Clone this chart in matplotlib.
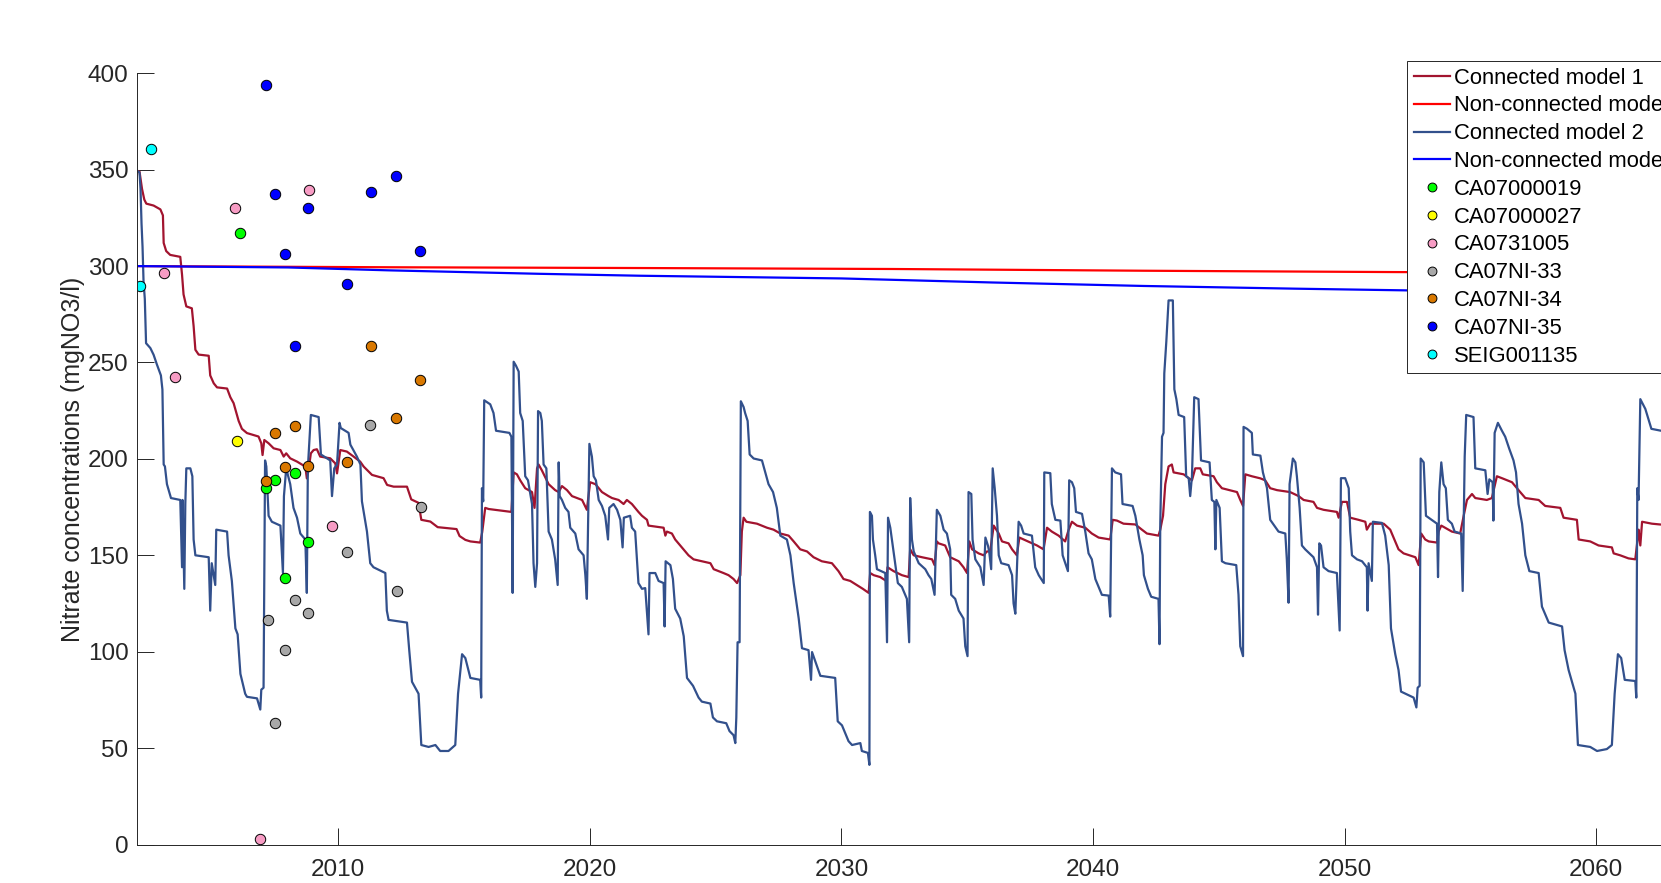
import matplotlib.pyplot as plt

plt.rcParams['font.family'] = ['Liberation Sans', 'DejaVu Sans']

# Connected model 1 (dark red)
conn1_year = [2002.00, 2002.10, 2002.20, 2002.29, 2002.37, 2002.66, 2002.93, 2003.03, 2003.06, 2003.16,
              2003.32, 2003.72, 2003.79, 2003.85, 2003.96, 2004.18, 2004.25, 2004.32, 2004.45, 2004.85,
              2004.91, 2005.05, 2005.18, 2005.58, 2005.71, 2005.84, 2005.95, 2006.04, 2006.17, 2006.37,
              2006.83, 2006.94, 2006.99, 2007.06, 2007.23, 2007.43, 2007.70, 2007.83, 2007.93, 2008.09,
              2008.36, 2008.69, 2008.75, 2008.82, 2008.91, 2009.02, 2009.15, 2009.28, 2009.68, 2009.88,
              2009.95, 2010.08, 2010.34, 2010.61, 2010.87, 2011.01, 2011.34, 2011.80, 2011.94, 2012.20,
              2012.73, 2012.90, 2013.19, 2013.30, 2013.66, 2013.95, 2014.70, 2014.82, 2015.05, 2015.25,
              2015.64, 2015.72, 2015.84, 2015.98, 2016.88, 2016.97, 2017.10, 2017.23, 2017.43, 2017.70,
              2017.80, 2017.90, 2017.96, 2018.09, 2018.36, 2018.62, 2018.76, 2018.89, 2019.09, 2019.29,
              2019.69, 2019.88, 2020.01, 2020.22, 2020.48, 2020.74, 2020.88, 2021.14, 2021.34, 2021.47,
              2021.67, 2021.93, 2022.07, 2022.27, 2022.33, 2022.93, 2023.00, 2023.06, 2023.26, 2023.39,
              2023.59, 2023.79, 2023.92, 2024.12, 2024.79, 2024.92, 2025.31, 2025.51, 2025.71, 2025.85,
              2025.98, 2026.04, 2026.11, 2026.22, 2026.64, 2027.04, 2027.30, 2027.57, 2027.90, 2028.10,
              2028.36, 2028.63, 2028.89, 2029.22, 2029.62, 2029.88, 2030.08, 2030.35, 2030.61, 2030.85,
              2031.08, 2031.14, 2031.28, 2031.54, 2031.78, 2031.83, 2032.07, 2032.40, 2032.67, 2032.73,
              2032.87, 2033.20, 2033.60, 2033.70, 2033.79, 2033.86, 2034.12, 2034.32, 2034.66, 2034.85,
              2034.99, 2035.08, 2035.19, 2035.45, 2035.65, 2035.78, 2035.91, 2036.05, 2036.25, 2036.38,
              2036.64, 2036.78, 2036.97, 2037.07, 2037.24, 2037.57, 2037.77, 2038.03, 2038.17, 2038.36,
              2038.63, 2038.89, 2039.03, 2039.16, 2039.36, 2039.69, 2039.95, 2040.22, 2040.68, 2040.78,
              2040.95, 2041.21, 2041.68, 2041.94, 2042.14, 2042.60, 2042.67, 2042.78, 2042.87, 2043.00,
              2043.13, 2043.20, 2043.60, 2043.80, 2043.93, 2044.06, 2044.26, 2044.36, 2044.79, 2044.92,
              2045.12, 2045.72, 2045.85, 2045.96, 2046.05, 2046.31, 2046.65, 2046.84, 2047.04, 2047.31,
              2047.83, 2048.17, 2048.37, 2048.76, 2048.90, 2049.16, 2049.69, 2049.76, 2049.89, 2050.09,
              2050.22, 2050.55, 2050.82, 2050.88, 2051.02, 2051.55, 2051.81, 2052.01, 2052.14, 2052.34,
              2052.81, 2052.94, 2053.04, 2053.20, 2053.34, 2053.67, 2053.73, 2053.84, 2053.99, 2054.26,
              2054.59, 2054.73, 2054.86, 2055.06, 2055.19, 2055.65, 2055.85, 2056.05, 2056.25, 2056.65,
              2056.91, 2057.18, 2057.71, 2057.97, 2058.57, 2058.70, 2059.23, 2059.30, 2059.76, 2060.09,
              2060.62, 2060.69, 2060.95, 2061.28, 2061.55, 2061.64, 2061.68, 2061.75, 2061.82, 2062.21,
              2063.00]
conn1_val = [349.5, 349.0, 340.0, 334.5, 332.4, 331.4, 329.4, 326.3, 312.0, 307.8,
             305.8, 304.8, 295.5, 285.3, 279.1, 278.1, 268.9, 256.6, 254.1, 253.5,
             243.3, 239.2, 237.1, 236.5, 232.0, 228.9, 223.8, 219.7, 215.6, 213.4,
             211.6, 208.1, 202.0, 209.8, 208.1, 205.5, 204.6, 201.2, 202.9, 200.3,
             198.6, 196.0, 189.9, 194.3, 202.9, 204.6, 205.0, 201.2, 200.3, 197.7,
             192.5, 204.6, 203.8, 201.2, 198.6, 196.0, 191.7, 190.0, 186.5, 185.6,
             185.6, 179.0, 177.2, 168.4, 167.5, 164.6, 163.6, 160.0, 158.0, 157.2,
             156.6, 162.0, 174.6, 174.0, 172.5, 193.0, 192.0, 188.9, 184.8, 182.8,
             174.6, 195.1, 197.1, 194.1, 186.9, 183.8, 182.8, 185.9, 183.8, 180.7,
             178.7, 173.6, 187.9, 186.9, 182.8, 180.7, 179.7, 178.7, 176.6, 178.7,
             176.6, 172.5, 170.5, 168.4, 165.4, 164.3, 160.2, 162.3, 161.3, 158.2,
             155.1, 152.0, 150.0, 147.9, 145.9, 142.8, 140.8, 139.7, 137.7, 135.6,
             139.7, 162.3, 169.5, 167.4, 166.4, 164.3, 163.3, 161.3, 160.2, 157.2,
             153.1, 152.0, 149.0, 146.9, 145.9, 141.8, 137.7, 136.7, 134.6, 132.6,
             130.5, 140.8, 139.7, 138.7, 136.7, 143.8, 141.8, 139.7, 138.7, 153.1,
             150.0, 149.0, 147.9, 144.9, 157.2, 156.2, 155.1, 149.0, 146.9, 143.8,
             140.8, 157.2, 153.1, 151.0, 150.0, 152.0, 152.0, 165.4, 161.3, 157.2,
             156.2, 153.1, 150.0, 159.2, 158.2, 156.2, 155.1, 153.1, 164.3, 162.3,
             160.2, 157.2, 163.3, 167.4, 165.4, 164.3, 161.3, 159.2, 158.2, 168.4,
             168.0, 166.4, 166.0, 163.3, 161.3, 160.2, 163.3, 170.5, 186.9, 196.1,
             197.1, 193.0, 192.0, 190.0, 188.9, 195.1, 195.1, 192.0, 191.0, 187.9,
             184.8, 182.8, 178.7, 175.6, 192.0, 191.0, 189.9, 188.9, 184.8, 183.8,
             182.8, 180.7, 178.7, 177.7, 174.6, 173.6, 172.5, 169.5, 177.7, 177.7,
             169.5, 168.4, 167.4, 163.3, 166.4, 166.4, 163.3, 157.2, 153.1, 151.0,
             149.0, 144.9, 161.3, 158.2, 157.2, 156.6, 162.3, 165.4, 164.3, 162.3,
             161.3, 170.5, 178.7, 181.8, 179.7, 178.7, 179.7, 191.0, 190.0, 187.9,
             183.8, 179.7, 178.7, 175.6, 174.6, 169.5, 168.4, 158.2, 157.2, 155.1,
             154.1, 151.0, 150.0, 148.4, 147.9, 158.2, 163.3, 155.1, 167.4, 166.4,
             165.4]

# Non-connected model 1 (red)
nc1_year = [2002, 2012, 2022, 2032, 2042, 2052, 2063]
nc1_val = [300.0, 299.4, 299.0, 298.5, 297.6, 296.9, 296.4]

# Connected model 2 (navy)
conn2_year = [2002.00, 2002.10, 2002.14, 2002.18, 2002.22, 2002.26, 2002.31, 2002.36, 2002.53, 2002.66,
              2002.79, 2002.95, 2003.01, 2003.06, 2003.11, 2003.19, 2003.35, 2003.72, 2003.79, 2003.81,
              2003.88, 2003.92, 2003.96, 2004.12, 2004.20, 2004.25, 2004.32, 2004.85, 2004.91, 2004.97,
              2005.11, 2005.15, 2005.58, 2005.64, 2005.77, 2005.91, 2006.00, 2006.11, 2006.30, 2006.37,
              2006.77, 2006.90, 2006.94, 2007.03, 2007.09, 2007.14, 2007.23, 2007.36, 2007.70, 2007.80,
              2007.84, 2007.93, 2008.09, 2008.22, 2008.36, 2008.49, 2008.69, 2008.75, 2008.79, 2008.91,
              2009.22, 2009.31, 2009.68, 2009.75, 2009.84, 2009.95, 2010.05, 2010.10, 2010.41, 2010.48,
              2010.74, 2010.88, 2010.94, 2011.14, 2011.27, 2011.40, 2011.87, 2011.93, 2012.00, 2012.73,
              2012.82, 2012.93, 2013.19, 2013.30, 2013.59, 2013.86, 2014.05, 2014.38, 2014.65, 2014.76,
              2014.92, 2015.05, 2015.25, 2015.64, 2015.68, 2015.71, 2015.76, 2015.80, 2016.04, 2016.17,
              2016.27, 2016.80, 2016.88, 2016.93, 2016.97, 2017.06, 2017.17, 2017.23, 2017.33, 2017.43,
              2017.54, 2017.70, 2017.76, 2017.83, 2017.90, 2017.94, 2018.03, 2018.09, 2018.16, 2018.27,
              2018.36, 2018.49, 2018.62, 2018.72, 2018.76, 2018.80, 2018.89, 2019.02, 2019.15, 2019.22,
              2019.42, 2019.55, 2019.75, 2019.82, 2019.88, 2019.98, 2020.08, 2020.15, 2020.24, 2020.35,
              2020.48, 2020.61, 2020.72, 2020.77, 2020.94, 2021.08, 2021.21, 2021.30, 2021.35, 2021.60,
              2021.67, 2021.80, 2021.93, 2022.07, 2022.20, 2022.33, 2022.37, 2022.60, 2022.73, 2022.93,
              2022.97, 2023.01, 2023.20, 2023.30, 2023.39, 2023.59, 2023.73, 2023.86, 2024.10, 2024.32,
              2024.45, 2024.79, 2024.89, 2025.05, 2025.42, 2025.55, 2025.71, 2025.78, 2025.82, 2025.87,
              2025.95, 2026.00, 2026.11, 2026.17, 2026.27, 2026.35, 2026.51, 2026.84, 2026.97, 2027.10,
              2027.28, 2027.43, 2027.57, 2027.83, 2027.97, 2028.10, 2028.30, 2028.43, 2028.69, 2028.79,
              2028.83, 2029.16, 2029.75, 2029.85, 2030.02, 2030.15, 2030.28, 2030.42, 2030.75, 2030.81,
              2031.05, 2031.11, 2031.13, 2031.21, 2031.25, 2031.34, 2031.41, 2031.74, 2031.81, 2031.85,
              2031.94, 2032.07, 2032.24, 2032.40, 2032.60, 2032.69, 2032.73, 2032.80, 2032.87, 2033.07,
              2033.33, 2033.46, 2033.57, 2033.70, 2033.79, 2033.93, 2034.06, 2034.19, 2034.32, 2034.36,
              2034.52, 2034.66, 2034.85, 2034.92, 2035.01, 2035.05, 2035.16, 2035.21, 2035.32, 2035.52,
              2035.65, 2035.72, 2035.82, 2035.87, 2035.95, 2036.01, 2036.09, 2036.18, 2036.25, 2036.35,
              2036.64, 2036.78, 2036.84, 2036.91, 2037.04, 2037.14, 2037.24, 2037.57, 2037.70, 2037.84,
              2038.04, 2038.06, 2038.30, 2038.36, 2038.50, 2038.70, 2038.79, 2038.92, 2039.00, 2039.05,
              2039.16, 2039.25, 2039.32, 2039.56, 2039.69, 2039.82, 2039.95, 2040.09, 2040.35, 2040.62,
              2040.68, 2040.75, 2040.88, 2041.11, 2041.17, 2041.57, 2041.68, 2041.84, 2041.97, 2042.02,
              2042.18, 2042.31, 2042.60, 2042.64, 2042.67, 2042.74, 2042.80, 2042.83, 2042.91, 2043.00,
              2043.17, 2043.23, 2043.31, 2043.40, 2043.62, 2043.70, 2043.80, 2043.86, 2043.93, 2044.02,
              2044.19, 2044.29, 2044.63, 2044.72, 2044.82, 2044.86, 2044.90, 2045.03, 2045.12, 2045.26,
              2045.69, 2045.78, 2045.85, 2045.96, 2045.98, 2046.12, 2046.31, 2046.35, 2046.65, 2046.75,
              2046.85, 2046.91, 2047.04, 2047.20, 2047.37, 2047.64, 2047.70, 2047.77, 2047.81, 2047.94,
              2048.04, 2048.10, 2048.21, 2048.30, 2048.43, 2048.76, 2048.90, 2048.94, 2048.99, 2049.06,
              2049.16, 2049.36, 2049.69, 2049.80, 2049.85, 2050.02, 2050.16, 2050.22, 2050.29, 2050.49,
              2050.69, 2050.88, 2050.91, 2050.95, 2051.08, 2051.12, 2051.48, 2051.61, 2051.75, 2051.84,
              2052.01, 2052.14, 2052.24, 2052.74, 2052.85, 2052.90, 2052.98, 2053.02, 2053.14, 2053.23,
              2053.67, 2053.71, 2053.76, 2053.84, 2053.93, 2054.02, 2054.10, 2054.26, 2054.37, 2054.63,
              2054.69, 2054.77, 2054.83, 2055.12, 2055.19, 2055.59, 2055.68, 2055.75, 2055.88, 2055.91,
              2055.96, 2056.09, 2056.25, 2056.38, 2056.54, 2056.71, 2056.81, 2056.91, 2057.05, 2057.18,
              2057.34, 2057.71, 2057.84, 2058.11, 2058.64, 2058.74, 2058.90, 2059.17, 2059.27, 2059.76,
              2060.03, 2060.42, 2060.62, 2060.73, 2060.86, 2060.99, 2061.13, 2061.55, 2061.59, 2061.63,
              2061.68, 2061.75, 2061.95, 2062.19, 2063.00]
conn2_val = [349.5, 348.5, 340.0, 322.0, 310.0, 292.0, 283.0, 260.0, 257.5, 254.0,
             249.0, 243.3, 236.0, 197.1, 196.1, 186.9, 179.7, 178.7, 143.8, 178.7,
             132.6, 176.6, 195.1, 195.1, 191.0, 158.2, 150.0, 149.0, 121.3, 145.9,
             134.6, 163.3, 162.3, 150.0, 136.7, 112.1, 109.0, 88.5, 78.2, 76.6,
             75.8, 70.0, 80.3, 81.3, 199.2, 196.1, 170.5, 167.4, 165.4, 140.8,
             180.7, 195.1, 186.9, 174.6, 169.5, 161.3, 158.2, 130.5, 195.1, 222.8,
             221.7, 202.3, 199.2, 180.7, 195.1, 197.1, 218.7, 216.0, 213.5, 207.4,
             201.2, 197.1, 178.0, 162.3, 145.9, 143.8, 140.8, 121.3, 116.5, 115.1,
             100.8, 84.4, 78.2, 51.6, 50.6, 51.6, 48.5, 48.5, 51.6, 78.2,
             98.7, 96.7, 86.4, 85.4, 76.2, 184.8, 178.0, 230.4, 228.3, 223.8,
             214.6, 213.5, 211.5, 130.5, 250.4, 248.4, 245.3, 223.8, 219.7, 191.0,
             188.9, 176.6, 145.9, 133.6, 145.9, 224.8, 223.8, 219.7, 197.1, 195.1,
             162.3, 158.2, 147.9, 134.6, 198.2, 180.7, 178.7, 174.6, 172.5, 164.3,
             161.3, 153.1, 150.0, 139.7, 127.4, 207.8, 201.2, 191.0, 188.9, 178.7,
             175.6, 170.5, 158.2, 174.6, 176.6, 173.6, 168.4, 154.1, 169.5, 170.5,
             164.3, 162.3, 135.6, 132.6, 133.0, 109.0, 140.8, 140.8, 136.7, 135.6,
             113.1, 146.9, 144.9, 137.7, 122.3, 117.2, 108.0, 86.4, 82.3, 76.2,
             74.1, 73.1, 65.9, 63.9, 62.9, 58.8, 56.7, 52.6, 65.9, 104.9,
             104.9, 229.9, 226.9, 223.8, 219.7, 202.3, 200.2, 199.2, 193.0, 186.9,
             182.8, 174.6, 160.2, 158.2, 150.0, 135.6, 117.2, 101.8, 100.8, 85.4,
             99.8, 87.5, 86.4, 63.9, 61.8, 57.7, 53.6, 51.6, 52.6, 48.5,
             47.5, 41.3, 172.5, 170.5, 158.2, 150.0, 142.8, 140.8, 104.9, 169.5,
             164.3, 152.0, 135.6, 133.6, 127.4, 104.9, 179.7, 158.2, 152.0, 145.9,
             142.8, 139.7, 137.7, 129.5, 173.6, 170.5, 163.3, 161.3, 153.1, 129.5,
             127.4, 121.3, 117.2, 102.8, 97.7, 182.8, 181.8, 158.2, 147.9, 143.8,
             134.6, 159.2, 155.1, 152.0, 142.8, 195.1, 184.8, 170.5, 150.0, 145.9,
             144.9, 139.7, 125.0, 119.7, 167.4, 165.4, 161.3, 160.2, 143.8, 139.7,
             135.6, 193.0, 192.6, 176.6, 168.4, 168.0, 150.0, 144.9, 141.8, 188.9,
             187.9, 184.8, 172.5, 171.5, 162.3, 151.0, 147.9, 137.7, 129.5, 129.1,
             118.2, 195.1, 193.0, 192.0, 176.6, 175.6, 170.5, 158.2, 150.0, 139.7,
             132.6, 128.5, 127.4, 103.9, 166.4, 211.5, 213.5, 244.3, 260.7, 282.2,
             282.2, 236.1, 231.0, 222.8, 221.7, 191.0, 190.0, 180.7, 191.0, 232.0,
             231.0, 199.2, 198.2, 178.7, 177.7, 153.1, 178.7, 174.6, 146.9, 145.9,
             144.9, 129.5, 102.8, 97.7, 216.6, 215.6, 213.5, 202.3, 201.7, 193.0,
             188.0, 185.0, 168.4, 165.4, 162.3, 161.3, 147.9, 125.4, 186.9, 200.2,
             198.2, 191.0, 174.6, 155.1, 153.1, 149.0, 143.8, 119.2, 156.2, 155.1,
             143.8, 141.8, 140.8, 111.0, 190.0, 190.0, 184.8, 162.3, 150.0, 147.9,
             146.9, 143.8, 121.3, 145.9, 136.7, 167.4, 166.8, 160.2, 144.9, 112.1,
             98.7, 90.5, 79.3, 76.2, 71.1, 81.3, 82.3, 200.2, 198.2, 170.5,
             166.4, 138.7, 182.8, 198.2, 186.9, 184.8, 168.4, 166.4, 162.3, 161.3,
             131.5, 201.2, 222.8, 221.7, 195.1, 194.1, 181.8, 189.4, 187.9, 168.0,
             213.5, 218.7, 214.6, 211.5, 205.3, 199.2, 193.0, 176.6, 166.4, 150.0,
             141.8, 140.8, 123.4, 115.1, 113.1, 100.8, 90.5, 78.2, 51.6, 50.6,
             48.5, 49.5, 51.6, 78.2, 98.7, 96.7, 85.4, 84.8, 76.2, 184.8,
             178.7, 231.0, 225.9, 215.6, 213.5]

# Non-connected model 2 (blue)
nc2_year = [2002, 2008, 2012, 2018, 2022, 2030, 2036, 2042, 2048, 2053, 2063]
nc2_val = [300.0, 299.3, 297.8, 296.0, 295.0, 293.6, 291.5, 289.7, 288.3, 287.3, 286.2]

# observation wells
ca19_year = [2006.08, 2007.13, 2007.47, 2007.88, 2008.29, 2008.78]
ca19_val = [317.2, 184.7, 188.9, 138.2, 192.8, 157.1]
ca27_year = [2005.97]
ca27_val = [209.3]
ca31_year = [2003.08, 2003.52, 2005.89, 2006.89, 2008.82, 2009.75]
ca31_val = [296.3, 242.6, 330.1, 2.7, 339.5, 165.2]
ni33_year = [2007.19, 2007.47, 2007.88, 2008.29, 2008.78, 2010.35, 2011.27, 2012.33, 2013.27]
ni33_val = [116.4, 63.0, 100.9, 126.7, 119.9, 151.9, 217.7, 131.5, 174.9]
ni34_year = [2007.13, 2007.47, 2007.88, 2008.29, 2008.78, 2010.36, 2011.31, 2012.29, 2013.25]
ni34_val = [188.4, 213.3, 196.0, 217.2, 196.5, 198.2, 258.6, 221.2, 240.8]
ni35_year = [2007.14, 2007.47, 2007.88, 2008.29, 2008.78, 2010.36, 2011.31, 2012.29, 2013.25]
ni35_val = [394.1, 337.2, 306.1, 258.6, 330.1, 290.6, 338.6, 346.6, 307.8]
seig_year = [2002.13, 2002.54]
seig_val = [289.8, 360.9]

wells = [
    ('CA07000019', ca19_year, ca19_val, '#00FF00'),
    ('CA07000027', ca27_year, ca27_val, '#FFFF00'),
    ('CA0731005', ca31_year, ca31_val, '#F79CC4'),
    ('CA07NI-33', ni33_year, ni33_val, '#A8A8A8'),
    ('CA07NI-34', ni34_year, ni34_val, '#D97800'),
    ('CA07NI-35', ni35_year, ni35_val, '#0000FF'),
    ('SEIG001135', seig_year, seig_val, '#00FFFF'),
]

W, H = 1661, 883
fig = plt.figure(figsize=(W / 100, H / 100), dpi=100)

# axes runs off the right edge of the picture, like the original screenshot
px_per_year = 25.16
x0, x1 = 2001.98, 2070
left_px, bottom_px, top_px = 136.5, 844.5, 73.3
ax_w = (x1 - x0) * px_per_year
ax = fig.add_axes([left_px / W, 1 - bottom_px / H, ax_w / W, (bottom_px - top_px) / H])

lw = 1.6
ax.plot(conn1_year, conn1_val, color='#A2142F', lw=lw, label='Connected model 1')
ax.plot(nc1_year, nc1_val, color='#FF0000', lw=lw, label='Non-connected model 1')
ax.plot(conn2_year, conn2_val, color='#32508C', lw=lw, label='Connected model 2')
ax.plot(nc2_year, nc2_val, color='#0000FF', lw=lw, label='Non-connected model 2')

for name, yrs, vals, col in wells:
    ax.plot(yrs, vals, 'o', ms=7.5, mfc=col, mec='black', mew=0.7, label=name)

ax.set_xlim(x0, x1)
ax.set_ylim(0, 400)
ax.set_xticks(range(2010, 2071, 10))
ax.set_yticks(range(0, 401, 50))

ax.spines['top'].set_visible(False)
ax.spines['right'].set_visible(False)
for s in ('left', 'bottom'):
    ax.spines[s].set_linewidth(0.7)
    ax.spines[s].set_color('#262626')

ax.tick_params(direction='in', length=11.9, width=0.7, colors='#262626', labelsize=17.5)
ax.tick_params(axis='y', pad=5.8)
ax.tick_params(axis='x', pad=10.5)

ax.set_ylabel('Nitrate concentrations (mgNO3/l)', fontsize=18, color='#262626')
ax.yaxis.set_label_coords((85 - left_px) / ax_w, 0.5)

leg = ax.legend(loc='upper left', bbox_to_anchor=(1407 / W, 1 - 61 / H),
                bbox_transform=fig.transFigure, borderaxespad=0, fontsize=15.8,
                fancybox=False, framealpha=1, edgecolor='#262626',
                borderpad=0.3, handlelength=1.64, handletextpad=0.18,
                labelspacing=0.31, markerscale=0.85)
leg.get_frame().set_linewidth(0.7)

fig.savefig('out.png', dpi=100)
